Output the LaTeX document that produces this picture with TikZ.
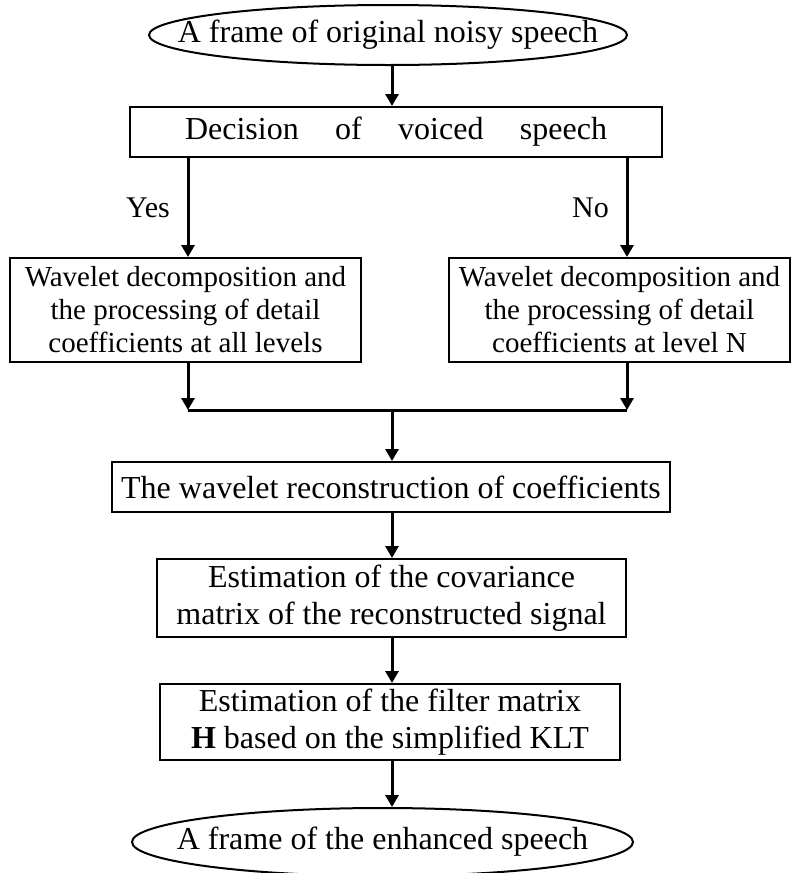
\documentclass[tikz,border=0pt]{standalone}
\usepackage{fontspec}
\setmainfont{Liberation Serif}
\usetikzlibrary{shapes.geometric,arrows.meta}

\begin{document}
\begin{tikzpicture}[x=0.5pt, y=-0.5pt,
  font=\fontsize{16}{18.5}\selectfont,
  block/.style={draw, line width=1pt, inner sep=0pt, align=center},
  branch/.style={block, font=\fontsize{14.5}{16.5}\selectfont, minimum height=52pt},
  terminal/.style={draw, ellipse, line width=1pt, inner sep=0pt},
  flow/.style={-{Triangle[width=6.5pt,length=6pt]}, line width=1.5pt}]

\useasboundingbox (0,0) rectangle (791,873);

% Axis and branch lines
\coordinate (axis) at (392,0);
\coordinate (yesx) at (188,0);
\coordinate (nox) at (627,0);
\coordinate (join) at (392,410);

% Start and end
\node[terminal, minimum width=239pt, minimum height=30pt,
  label=center:{A frame of original noisy speech}] (start) at (388,35) {};
\node[terminal, minimum width=250.5pt, minimum height=34pt,
  label=center:{A frame of the enhanced speech}] (finish) at (382.5,842) {};

% Decision
\node[block, minimum width=266pt, minimum height=25pt] (dec) at (396,132)
  {\makebox[211pt][s]{Decision of voiced speech}};

% Two branches
\node[branch, minimum width=175.5pt] (wl) at (185.5,310)
  {Wavelet decomposition and\\the processing of detail\\coefficients at all levels};
\node[branch, minimum width=170.5pt] (wr) at (619.5,310)
  {Wavelet decomposition and\\the processing of detail\\coefficients at level N};

% Main chain
\node[block, minimum width=279pt, minimum height=25pt] (rec) at (391,487)
  {The wavelet reconstruction of coefficients};
\node[block, minimum width=234.5pt, minimum height=39pt] (cov) at (391.5,598)
  {Estimation of the covariance\\matrix of the reconstructed signal};
\node[block, minimum width=230pt, minimum height=38pt] (filt) at (390,722)
  {Estimation of the filter matrix\\\textbf{H} based on the simplified KLT};

% Arrows
\draw[flow] (start.south -| axis) -- (dec.north -| axis);
\draw[flow] (dec.south -| yesx) -- (wl.north -| yesx)
  node[midway, left=5pt, font=\fontsize{15}{17}\selectfont] (yes) {Yes};
\draw[flow] (dec.south -| nox) -- (wr.north -| nox)
  node[midway, left=5pt, font=\fontsize{15}{17}\selectfont] (no) {No};
\draw[flow] (wl.south -| yesx) -- (join -| yesx);
\draw[flow] (wr.south -| nox) -- (join -| nox);
\draw[line width=1.5pt] (join -| yesx) -- (join -| nox);
\draw[flow] (join) -- (rec.north -| axis);
\draw[flow] (rec.south -| axis) -- (cov.north -| axis);
\draw[flow] (cov.south -| axis) -- (filt.north -| axis);
\draw[flow] (filt.south -| axis) -- (finish.north -| axis);

\end{tikzpicture}
\end{document}
